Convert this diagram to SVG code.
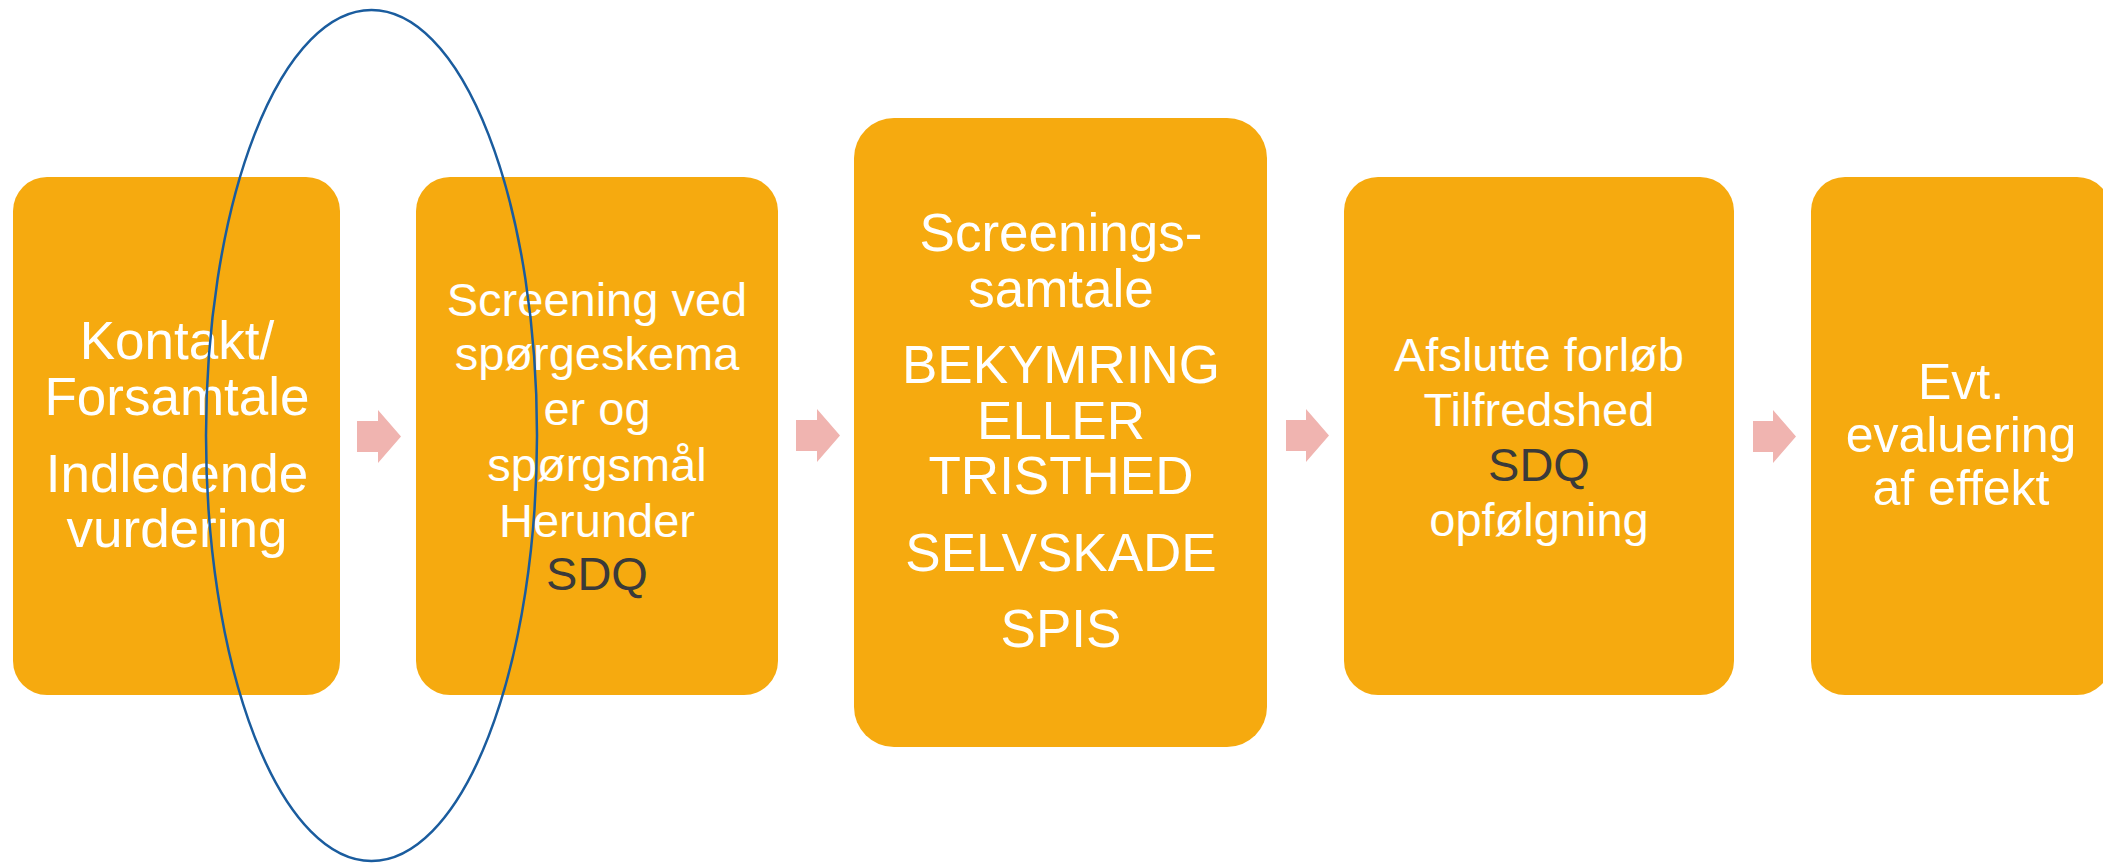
<svg xmlns="http://www.w3.org/2000/svg" width="2103" height="863" viewBox="0 0 2103 863">
<style>
.box{fill:#F6AA0F}
.t{font-family:"Liberation Sans",Arial,sans-serif;fill:#FFFFFF;text-anchor:middle}
.dk{fill:#3A3A3A}
.arr{fill:#F0B4B0}
</style>
<rect width="2103" height="863" fill="#FFFFFF"/>
<g id="connectors">
<polygon class="arr" points="357,421 378,421 378,410 401,436.5 378,463 378,452 357,452"/>
<polygon class="arr" points="796,420 817,420 817,409 840,435.5 817,462 817,451 796,451"/>
<polygon class="arr" points="1286,420 1306,420 1306,409 1329,435.5 1306,462 1306,451 1286,451"/>
<polygon class="arr" points="1753,421 1773,421 1773,410 1796,436.5 1773,463 1773,452 1753,452"/>
</g>
<g id="node1">
<rect class="box" x="13" y="177" width="327" height="518" rx="34"/>
<text class="t" font-size="53" x="177"><tspan x="177" y="359">Kontakt/</tspan><tspan x="177" y="415">Forsamtale</tspan><tspan x="177" y="492">Indledende</tspan><tspan x="177" y="547">vurdering</tspan></text>
</g>
<g id="node2">
<rect class="box" x="416" y="177" width="362" height="518" rx="34"/>
<text class="t" font-size="47" x="597"><tspan x="597" y="316">Screening ved</tspan><tspan x="597" y="370">spørgeskema</tspan><tspan x="597" y="425">er og</tspan><tspan x="597" y="481">spørgsmål</tspan><tspan x="597" y="537">Herunder</tspan><tspan x="597" y="590" class="dk">SDQ</tspan></text>
</g>
<g id="node3">
<rect class="box" x="854" y="118" width="413" height="629" rx="40"/>
<text class="t" font-size="53" x="1061"><tspan x="1061" y="251">Screenings-</tspan><tspan x="1061" y="307">samtale</tspan><tspan x="1061" y="383">BEKYMRING</tspan><tspan x="1061" y="439">ELLER</tspan><tspan x="1061" y="494">TRISTHED</tspan><tspan x="1061" y="571">SELVSKADE</tspan><tspan x="1061" y="647">SPIS</tspan></text>
</g>
<g id="node4">
<rect class="box" x="1344" y="177" width="390" height="518" rx="34"/>
<text class="t" font-size="47" x="1539"><tspan x="1539" y="371">Afslutte forløb</tspan><tspan x="1539" y="426">Tilfredshed</tspan><tspan x="1539" y="481" class="dk">SDQ</tspan><tspan x="1539" y="536">opfølgning</tspan></text>
</g>
<g id="node5">
<rect class="box" x="1811" y="177" width="300" height="518" rx="34"/>
<text class="t" font-size="50" x="1961"><tspan x="1961" y="399">Evt.</tspan><tspan x="1961" y="452">evaluering</tspan><tspan x="1961" y="505">af effekt</tspan></text>
</g>
<g id="highlight">
<ellipse cx="371.5" cy="435.5" rx="165.5" ry="425.5" fill="none" stroke="#1A5C9E" stroke-width="2.5"/>
</g>
</svg>
